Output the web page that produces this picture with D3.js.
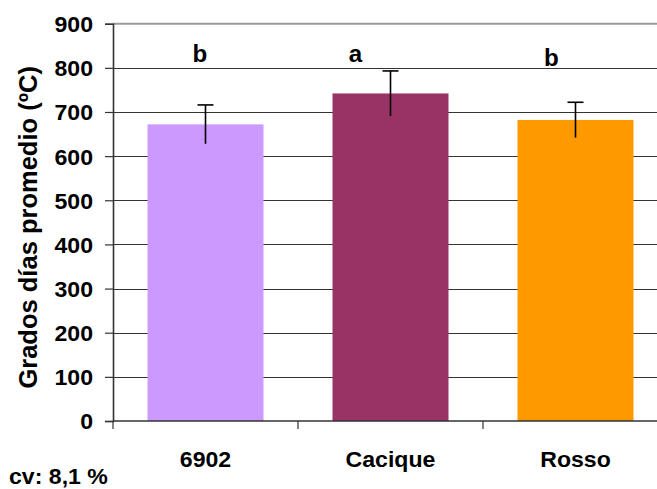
<!DOCTYPE html>
<html>
<head>
<meta charset="utf-8">
<script src="https://cdn.jsdelivr.net/npm/d3@7"></script>
<style>
  html, body { margin: 0; padding: 0; background: #fff; }
  svg text { font-family: "Liberation Sans", Arial, sans-serif; font-weight: bold; fill: #000; }
</style>
</head>
<body>
<svg id="chart" width="657" height="489"></svg>
<script>
// ---- data ----
const categories = ["6902", "Cacique", "Rosso"];
const means = [672, 742, 682];
const errors = [44, 51, 40];
const sigLetters = ["b", "a", "b"];
const yTicks = [0, 100, 200, 300, 400, 500, 600, 700, 800, 900];
const barColors = ["#cc99ff", "#993366", "#ff9900"];
const yTitle = "Grados días promedio (ºC)";
const cvLabel = "cv: 8,1 %";

// letter annotation placement (fraction of band offset from center, value units for baseline)
const letterDx = [-0.03, -0.19, -0.13];
const letterY = [814, 814, 804];

// ---- layout ----
const W = 657, H = 489;
const plot = { left: 113, right: 668, top: 23.7, bottom: 421 };
const svg = d3.select("#chart");
svg.append("rect").attr("width", W).attr("height", H).attr("fill", "#fff");

const x = d3.scaleBand().domain(categories)
  .range([plot.left, plot.right])
  .paddingInner(0.373).paddingOuter(0.1865);
const y = d3.scaleLinear().domain([0, 900]).range([plot.bottom, plot.top]);
const step = x.step();

const sx = 1.05; // horizontal stretch of the text
const fs = 22;

// gridlines
svg.append("g").selectAll("line").data(yTicks.filter(d => d > 0 && d < 900)).join("line")
  .attr("x1", plot.left).attr("x2", plot.right)
  .attr("y1", d => Math.round(y(d)) + 0.5).attr("y2", d => Math.round(y(d)) + 0.5)
  .attr("stroke", "#333").attr("stroke-width", 1.2);
// top border
svg.append("line").attr("x1", plot.left).attr("x2", plot.right)
  .attr("y1", y(900)).attr("y2", y(900))
  .attr("stroke", "#9a9a9a").attr("stroke-width", 2);

// bars
svg.append("g").selectAll("rect").data(categories).join("rect")
  .attr("x", d => x(d)).attr("width", x.bandwidth())
  .attr("y", (d, i) => y(means[i]))
  .attr("height", (d, i) => y(0) - y(means[i]))
  .attr("fill", (d, i) => barColors[i]);

// error bars
const eb = svg.append("g").attr("stroke", "#000").attr("stroke-width", 1.6);
categories.forEach((c, i) => {
  const cx = x(c) + x.bandwidth() / 2;
  eb.append("line").attr("x1", cx).attr("x2", cx)
    .attr("y1", y(means[i] - errors[i])).attr("y2", y(means[i] + errors[i]));
  eb.append("line").attr("x1", cx - 8).attr("x2", cx + 8)
    .attr("y1", y(means[i] + errors[i])).attr("y2", y(means[i] + errors[i]));
});

// y axis
const yAxis = d3.axisLeft(y).tickValues(yTicks).tickSize(8).tickPadding(12).tickFormat(d3.format("d"));
const gy = svg.append("g").attr("transform", `translate(${plot.left},0)`).call(yAxis);
gy.select(".domain").attr("stroke", "#333").attr("stroke-width", 1.6);
gy.selectAll(".tick line").attr("stroke", "#333").attr("stroke-width", 1.2);
gy.selectAll(".tick text").attr("font-size", fs).attr("dy", "0.36em")
  .attr("transform", `scale(${sx},1)`)
  .attr("x", -20 / sx)
  .style("font-family", '"Liberation Sans", Arial, sans-serif').style("font-weight", "bold");

// x axis
const boundaries = [plot.left, ...categories.map(c => x(c) - (step - x.bandwidth()) / 2 + step)];
svg.append("line").attr("x1", plot.left).attr("x2", plot.right)
  .attr("y1", y(0)).attr("y2", y(0)).attr("stroke", "#333").attr("stroke-width", 1.6);
svg.append("g").selectAll("line").data(boundaries).join("line")
  .attr("x1", d => d).attr("x2", d => d).attr("y1", y(0)).attr("y2", y(0) + 8)
  .attr("stroke", "#333").attr("stroke-width", 1.2);

svg.append("g").selectAll("text").data(categories).join("text")
  .attr("text-anchor", "middle").attr("font-size", fs)
  .attr("transform", d => `translate(${x(d) + x.bandwidth() / 2},466.5) scale(${sx},1)`)
  .text(d => d);

// significance letters
svg.append("g").selectAll("text").data(sigLetters).join("text")
  .attr("text-anchor", "middle").attr("font-size", 23)
  .attr("transform", (d, i) => `translate(${x(categories[i]) + x.bandwidth() / 2 + letterDx[i] * step},${y(letterY[i])}) scale(${sx},1)`)
  .text(d => d);

// y title
svg.append("text").attr("text-anchor", "middle").attr("font-size", 25.5)
  .attr("transform", `translate(36.5,${(plot.top + plot.bottom) / 2 + 5}) rotate(-90)`)
  .text(yTitle);

// cv label
svg.append("text").attr("font-size", fs)
  .attr("transform", `translate(9,484) scale(${sx},1)`)
  .text(cvLabel);
</script>
</body>
</html>
